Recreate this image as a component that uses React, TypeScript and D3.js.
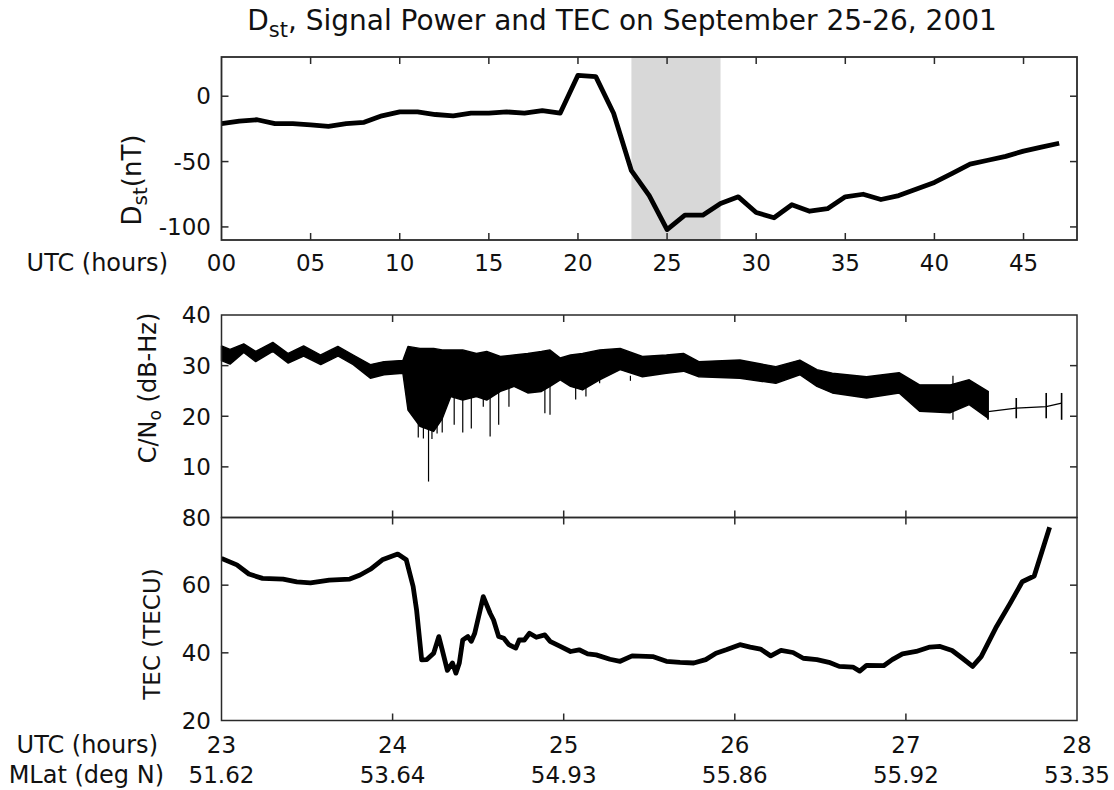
import * as d3 from "d3";

// Dst index, hourly, Sept 25 00 UT .. Sept 26 23 UT (hours counted from Sept 25 00 UT)
const dstHours = d3.range(0, 48);
const dstValues = [
  -21, -19, -18, -21, -21, -22, -23, -21, -20, -15, -12, -12, -14, -15, -13, -13,
  -12, -13, -11, -13, 16, 15, -13, -57, -76, -102, -91, -91, -82, -77, -89, -93,
  -83, -88, -86, -77, -75, -79, -76, -71, -66, -59, -52, -49, -46, -42, -39, -36,
];
const dstTickHours = [0, 5, 10, 15, 20, 25, 30, 35, 40, 45];
const dstTickLabels = ["00", "05", "10", "15", "20", "25", "30", "35", "40", "45"];
const dstYTicks = [0, -50, -100];
const stormWindow = [23, 28];

// C/No envelope of the dense 1 Hz trace (upper / lower edge of the black band)
const cnTime = [
  23.0, 23.05, 23.13, 23.2, 23.3, 23.39, 23.48, 23.58, 23.68, 23.77, 23.87, 23.95,
  24.06, 24.09, 24.16, 24.24, 24.29, 24.34, 24.41, 24.49, 24.55, 24.63, 24.71, 24.79,
  24.87, 24.92, 24.98, 25.04, 25.11, 25.21, 25.33, 25.46, 25.6, 25.7, 25.79, 26.03,
  26.24, 26.38, 26.48, 26.57, 26.77, 26.96, 27.08, 27.26, 27.37, 27.48,
];
const cnUpper = [
  33.9, 33.2, 34.3, 32.8, 34.6, 32.4, 33.9, 32.1, 33.8, 32.1, 30.2, 30.8,
  31.0, 33.8, 33.4, 33.4, 33.1, 33.1, 33.1, 32.4, 32.8, 31.8, 32.1, 32.4,
  32.8, 33.1, 31.5, 32.1, 32.4, 33.1, 33.4, 31.8, 32.1, 32.4, 30.8, 31.1,
  29.8, 31.1, 29.2, 28.5, 27.8, 28.6, 26.2, 26.2, 27.2, 24.9,
];
const cnLower = [
  31.0, 30.3, 32.6, 30.8, 32.8, 30.5, 31.9, 30.2, 31.9, 30.2, 27.5, 28.2,
  28.5, 21.2, 18.0, 17.0, 19.5, 23.9, 23.2, 23.9, 23.2, 24.9, 25.9, 24.6,
  24.9, 25.9, 27.2, 25.9, 25.2, 27.2, 29.2, 27.8, 28.5, 28.9, 27.8, 27.5,
  26.5, 28.2, 25.9, 24.6, 23.6, 24.6, 21.0, 20.7, 22.3, 19.6,
];
// deep fades sticking out below the band
const spikeTime = [
  24.1, 24.13, 24.15, 24.18, 24.21, 24.23, 24.26, 24.29, 24.36, 24.41, 24.46,
  24.53, 24.57, 24.62, 24.68, 24.89, 24.92, 25.07, 25.13, 25.21, 25.39, 27.275,
];
const spikeLow = [
  21.0, 20.3, 15.8, 15.6, 7.1, 15.5, 16.6, 16.8, 18.3, 16.8, 17.6,
  21.9, 16.0, 18.3, 21.9, 20.6, 20.3, 23.3, 23.9, 26.5, 27.0, 19.3,
];
// sparse samples after the track breaks up
const tailTime = [27.48, 27.645, 27.82, 27.91];
const tailValue = [20.9, 21.6, 21.9, 22.6];
const tailTop = [25.0, 23.6, 24.6, 24.6];
const tailBottom = [19.3, 19.6, 19.6, 19.3];
const cnYTicks = [40, 30, 20, 10];

// TEC along the pass
const tecTime = [
  23.0, 23.09, 23.16, 23.24, 23.36, 23.44, 23.52, 23.63, 23.75, 23.81, 23.87, 23.94,
  24.03, 24.08, 24.12, 24.14, 24.17, 24.2, 24.24, 24.27, 24.29, 24.32, 24.35, 24.37,
  24.39, 24.41, 24.44, 24.46, 24.48, 24.53, 24.57, 24.59, 24.62, 24.65, 24.68, 24.72,
  24.74, 24.77, 24.8, 24.84, 24.89, 24.92, 24.98, 25.04, 25.09, 25.14, 25.19, 25.27,
  25.33, 25.4, 25.52, 25.6, 25.68, 25.76, 25.83, 25.89, 25.95, 26.03, 26.09, 26.15,
  26.21, 26.27, 26.34, 26.4, 26.48, 26.55, 26.61, 26.69, 26.73, 26.77, 26.87, 26.92,
  26.98, 27.06, 27.14, 27.2, 27.27, 27.33, 27.39, 27.44, 27.53, 27.61, 27.68, 27.75,
  27.84,
];
const tecValue = [
  67.9, 66.0, 63.3, 62.0, 61.8, 61.0, 60.7, 61.5, 61.8, 63.0, 64.7, 67.5,
  69.2, 67.5, 59.6, 52.7, 37.9, 38.0, 39.9, 44.8, 40.9, 34.8, 37.0, 34.0,
  37.0, 43.8, 44.8, 43.4, 45.8, 56.6, 51.7, 49.7, 44.8, 44.3, 42.4, 41.4,
  43.8, 43.8, 45.8, 44.6, 45.3, 43.4, 41.9, 40.4, 40.9, 39.7, 39.4, 38.1,
  37.5, 39.1, 38.9, 37.5, 37.2, 37.0, 38.0, 39.9, 40.9, 42.4, 41.7, 41.1,
  39.1, 40.7, 40.1, 38.4, 38.0, 37.2, 36.0, 35.8, 34.6, 36.3, 36.2, 38.0,
  39.7, 40.4, 41.7, 41.9, 40.7, 38.4, 36.0, 38.9, 47.8, 54.7, 61.0, 62.7,
  77.1,
];
const tecYTicks = [80, 60, 40, 20];

const utcTicks = [23, 24, 25, 26, 27, 28];
const mlatLabels = ["51.62", "53.64", "54.93", "55.86", "55.92", "53.35"];

const font = "'DejaVu Sans', 'Open Sans', sans-serif";
const tickLen = 7;
const labelSize = 23;
const rowLabelSize = 24;

export default function App() {
  const left = 221.5;
  const right = 1077;

  const xDst = d3.scaleLinear().domain([0, 48]).range([left, right]);
  const yDst = d3.scaleLinear().domain([-110, 30]).range([240, 57]);
  const xUtc = d3.scaleLinear().domain([23, 28]).range([left, right]);
  const yCn = d3.scaleLinear().domain([0, 40]).range([517.5, 315]);
  const yTec = d3.scaleLinear().domain([20, 80]).range([720.5, 517.5]);

  const dstLine = d3
    .line<number>()
    .x((d, i) => xDst(dstHours[i]))
    .y((d) => yDst(d));

  const cnBand = d3
    .area<number>()
    .x((d) => xUtc(d))
    .y0((d, i) => yCn(cnLower[i]))
    .y1((d, i) => yCn(cnUpper[i]));

  const tailLine = d3
    .line<number>()
    .x((d) => xUtc(d))
    .y((d, i) => yCn(tailValue[i]));

  const tecLine = d3
    .line<number>()
    .x((d, i) => xUtc(tecTime[i]))
    .y((d) => yTec(d));

  const axisColor = "#2a2a2a";
  const [cnTop, cnBottom] = [yCn(40), yCn(0)];
  const [tecTop, tecBottom] = [yTec(80), yTec(20)];

  return (
    <svg
      width={1114}
      height={790}
      style={{ position: "absolute", left: 0, top: 0, background: "#fff" }}
      fontFamily={font}
    >
      <defs>
        <clipPath id="clip-dst">
          <rect x={left} y={yDst(30)} width={right - left} height={yDst(-110) - yDst(30)} />
        </clipPath>
        <clipPath id="clip-tec">
          <rect x={left} y={tecTop} width={right - left} height={tecBottom - tecTop} />
        </clipPath>
      </defs>

      {/* title */}
      <text x={622} y={30} fontSize={28} textAnchor="middle" fill="#111">
        D<tspan fontSize={21} dy={7}>st</tspan>
        <tspan dy={-7}>, Signal Power and TEC on September 25-26, 2001</tspan>
      </text>

      {/* ---------- Dst panel ---------- */}
      <rect
        x={xDst(stormWindow[0])}
        y={yDst(30)}
        width={xDst(stormWindow[1]) - xDst(stormWindow[0])}
        height={yDst(-110) - yDst(30)}
        fill="#d8d8d8"
      />
      <path
        d={dstLine(dstValues) ?? ""}
        fill="none"
        stroke="#000"
        strokeWidth={4.8}
        strokeLinejoin="round"
        clipPath="url(#clip-dst)"
      />
      <rect
        x={left}
        y={yDst(30)}
        width={right - left}
        height={yDst(-110) - yDst(30)}
        fill="none"
        stroke={axisColor}
        strokeWidth={1.8}
      />
      {dstTickHours.map((h, i) => (
        <g key={"dx" + h}>
          {h > 0 && (
            <>
              <line x1={xDst(h)} x2={xDst(h)} y1={yDst(30)} y2={yDst(30) + tickLen} stroke={axisColor} strokeWidth={1.5} />
              <line x1={xDst(h)} x2={xDst(h)} y1={yDst(-110)} y2={yDst(-110) - tickLen} stroke={axisColor} strokeWidth={1.5} />
            </>
          )}
          <text x={xDst(h)} y={271} fontSize={labelSize} textAnchor="middle" fill="#111">
            {dstTickLabels[i]}
          </text>
        </g>
      ))}
      {dstYTicks.map((v) => (
        <g key={"dy" + v}>
          <line x1={left} x2={left + tickLen} y1={yDst(v)} y2={yDst(v)} stroke={axisColor} strokeWidth={1.5} />
          <line x1={right} x2={right - tickLen} y1={yDst(v)} y2={yDst(v)} stroke={axisColor} strokeWidth={1.5} />
          <text x={211} y={yDst(v)} dy="0.36em" fontSize={labelSize} textAnchor="end" fill="#111">
            {v}
          </text>
        </g>
      ))}
      <text x={168} y={271} fontSize={rowLabelSize} textAnchor="end" fill="#111">
        UTC (hours)
      </text>
      <text transform="translate(141,180) rotate(-90)" fontSize={26} textAnchor="middle" fill="#111">
        D<tspan fontSize={20} dy={6}>st</tspan>
        <tspan dy={-6}>(nT)</tspan>
      </text>

      {/* ---------- C/No panel ---------- */}
      <path d={cnBand(cnTime) ?? ""} fill="#000" stroke="#000" strokeWidth={1.4} strokeLinejoin="round" />
      {spikeTime.map((t, i) => (
        <line key={"sp" + i} x1={xUtc(t)} x2={xUtc(t)} y1={yCn(28)} y2={yCn(spikeLow[i])} stroke="#000" strokeWidth={1.2} />
      ))}
      <path d={tailLine(tailTime) ?? ""} fill="none" stroke="#000" strokeWidth={1.3} />
      {tailTime.map((t, i) => (
        <line key={"tt" + i} x1={xUtc(t)} x2={xUtc(t)} y1={yCn(tailTop[i])} y2={yCn(tailBottom[i])} stroke="#000" strokeWidth={1.6} />
      ))}
      <rect x={left} y={cnTop} width={right - left} height={cnBottom - cnTop} fill="none" stroke={axisColor} strokeWidth={1.5} />
      {cnYTicks.map((v) => (
        <g key={"cy" + v}>
          {v < 40 && (
            <>
              <line x1={left} x2={left + tickLen} y1={yCn(v)} y2={yCn(v)} stroke={axisColor} strokeWidth={1.5} />
              <line x1={right} x2={right - tickLen} y1={yCn(v)} y2={yCn(v)} stroke={axisColor} strokeWidth={1.5} />
            </>
          )}
          <text x={211} y={yCn(v)} dy="0.36em" fontSize={labelSize} textAnchor="end" fill="#111">
            {v}
          </text>
        </g>
      ))}
      <text transform="translate(156,388) rotate(-90)" fontSize={24} textAnchor="middle" fill="#111">
        C/N<tspan fontSize={17} dy={5}>o</tspan>
        <tspan dy={-5}> (dB-Hz)</tspan>
      </text>

      {/* ---------- TEC panel ---------- */}
      <path
        d={tecLine(tecValue) ?? ""}
        fill="none"
        stroke="#000"
        strokeWidth={4.8}
        strokeLinejoin="round"
        clipPath="url(#clip-tec)"
      />
      <rect x={left} y={tecTop} width={right - left} height={tecBottom - tecTop} fill="none" stroke={axisColor} strokeWidth={1.5} />
      {tecYTicks.map((v) => (
        <g key={"ty" + v}>
          {v > 20 && v < 80 && (
            <>
              <line x1={left} x2={left + tickLen} y1={yTec(v)} y2={yTec(v)} stroke={axisColor} strokeWidth={1.5} />
              <line x1={right} x2={right - tickLen} y1={yTec(v)} y2={yTec(v)} stroke={axisColor} strokeWidth={1.5} />
            </>
          )}
          <text x={211} y={yTec(v)} dy="0.36em" fontSize={labelSize} textAnchor="end" fill="#111">
            {v}
          </text>
        </g>
      ))}
      <text transform="translate(160,634) rotate(-90)" fontSize={23} textAnchor="middle" fill="#111">
        TEC (TECU)
      </text>

      {/* shared UTC ticks for C/No and TEC panels */}
      {utcTicks.map((t, i) => (
        <g key={"ux" + t}>
          {t > 23 && t < 28 && (
            <>
              <line x1={xUtc(t)} x2={xUtc(t)} y1={cnTop} y2={cnTop + tickLen} stroke={axisColor} strokeWidth={1.5} />
              <line x1={xUtc(t)} x2={xUtc(t)} y1={cnBottom - tickLen} y2={cnBottom + tickLen} stroke={axisColor} strokeWidth={1.5} />
              <line x1={xUtc(t)} x2={xUtc(t)} y1={tecBottom} y2={tecBottom - tickLen} stroke={axisColor} strokeWidth={1.5} />
            </>
          )}
          <text x={xUtc(t)} y={753} fontSize={labelSize} textAnchor="middle" fill="#111">
            {t}
          </text>
          <text x={xUtc(t)} y={783} fontSize={labelSize} textAnchor="middle" fill="#111">
            {mlatLabels[i]}
          </text>
        </g>
      ))}
      <text x={158} y={753} fontSize={rowLabelSize} textAnchor="end" fill="#111">
        UTC (hours)
      </text>
      <text x={164} y={783} fontSize={rowLabelSize} textAnchor="end" fill="#111">
        MLat (deg N)
      </text>
    </svg>
  );
}
